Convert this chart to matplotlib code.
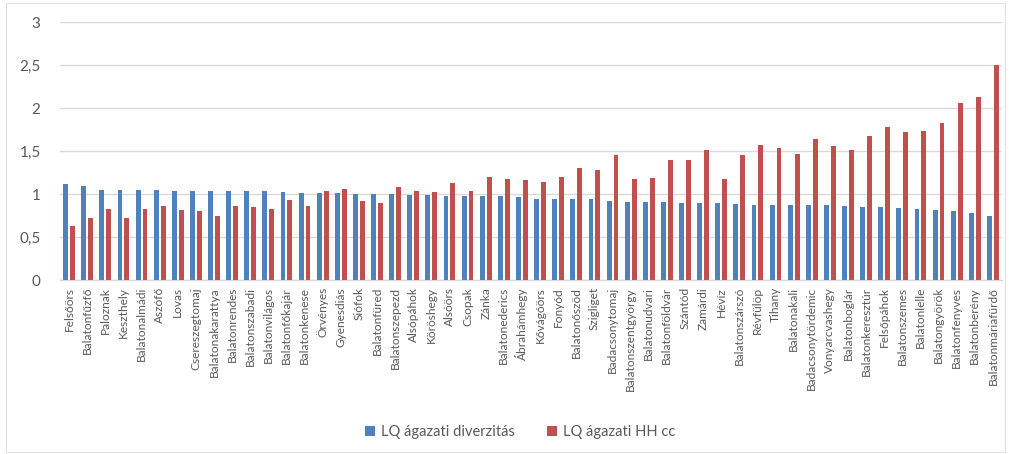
import matplotlib
matplotlib.use("Agg")
import matplotlib.pyplot as plt
import matplotlib.ticker as mticker
from matplotlib.patches import Rectangle
import numpy as np

# ----------------------------------------------------------------------
# Adatok
# ----------------------------------------------------------------------
telepulesek = [
    "Felsőörs", "Balatonfűzfő", "Paloznak", "Keszthely", "Balatonalmádi",
    "Aszófő", "Lovas", "Csereszegtomaj", "Balatonakarattya", "Balatonrendes",
    "Balatonszabadi", "Balatonvilágos", "Balatonfőkajár", "Balatonkenese",
    "Örvényes", "Gyenesdiás", "Siófok", "Balatonfüred", "Balatonszepezd",
    "Alsópáhok", "Köröshegy", "Alsóörs", "Csopak", "Zánka", "Balatonederics",
    "Ábrahámhegy", "Kővágóörs", "Fonyód", "Balatonőszöd", "Szigliget",
    "Badacsonytomaj", "Balatonszentgyörgy", "Balatonudvari", "Balatonföldvár",
    "Szántód", "Zamárdi", "Hévíz", "Balatonszárszó", "Révfülöp", "Tihany",
    "Balatonakali", "Badacsonytördemic", "Vonyarcvashegy", "Balatonboglár",
    "Balatonkeresztúr", "Felsőpáhok", "Balatonszemes", "Balatonlelle",
    "Balatongyörök", "Balatonfenyves", "Balatonberény", "Balatonmáriafürdő",
]

lq_diverzitas = [
    1.12, 1.09, 1.05, 1.05, 1.05, 1.05, 1.04, 1.04, 1.04, 1.04,
    1.03, 1.03, 1.02, 1.01, 1.01, 1.01, 1.00, 1.00, 1.00, 0.99,
    0.99, 0.98, 0.98, 0.98, 0.98, 0.96, 0.94, 0.94, 0.94, 0.94,
    0.92, 0.91, 0.91, 0.91, 0.90, 0.90, 0.90, 0.88, 0.87, 0.87,
    0.87, 0.87, 0.87, 0.86, 0.85, 0.85, 0.84, 0.83, 0.81, 0.80,
    0.78, 0.75,
]

lq_hhcc = [
    0.63, 0.72, 0.82, 0.72, 0.82, 0.86, 0.81, 0.80, 0.74, 0.86,
    0.85, 0.82, 0.93, 0.86, 1.03, 1.06, 0.92, 0.89, 1.08, 1.04,
    1.02, 1.13, 1.04, 1.20, 1.17, 1.16, 1.14, 1.20, 1.30, 1.28,
    1.45, 1.17, 1.19, 1.40, 1.40, 1.51, 1.17, 1.45, 1.57, 1.53,
    1.47, 1.64, 1.56, 1.51, 1.67, 1.78, 1.72, 1.73, 1.83, 2.06,
    2.13, 2.50,
]

sorozatok = ["LQ ágazati diverzitás", "LQ ágazati HH cc"]

# ----------------------------------------------------------------------
# Beállítások
# ----------------------------------------------------------------------
plt.rcParams.update({
    "font.family": ["Lato", "DejaVu Sans"],
    "font.size": 9,
})

KEK = "#4F81BD"
PIROS = "#C0504D"
SZURKE_SZOVEG = "#595959"
RACS = "#D9D9D9"

fig = plt.figure(figsize=(10.09, 4.54), dpi=100)
fig.patch.set_facecolor("white")
fig.add_artist(Rectangle((0.006, 0.004), 0.99, 0.99, transform=fig.transFigure,
                         fill=False, edgecolor="#E0E0E0", linewidth=0.8))

ax = fig.add_axes([60 / 1009, 1 - 280 / 454, 942 / 1009, 258 / 454])

x = np.arange(len(telepulesek))
w = 0.27
ax.bar(x - 0.19, lq_diverzitas, width=w, color=KEK, label=sorozatok[0], zorder=3)
ax.bar(x + 0.19, lq_hhcc, width=w, color=PIROS, label=sorozatok[1], zorder=3)

ax.set_xlim(-0.5, len(telepulesek) - 0.5)
ax.set_ylim(0, 3)
ax.yaxis.set_major_locator(mticker.MultipleLocator(0.5))
ax.yaxis.set_major_formatter(mticker.FuncFormatter(
    lambda v, _: f"{v:g}".replace(".", ",")))
ax.grid(axis="y", color=RACS, linewidth=1.0, zorder=0)

ax.set_xticks(x)
ax.set_xticklabels(telepulesek, rotation=90, fontsize=8.6, color=SZURKE_SZOVEG)
ax.tick_params(axis="x", length=0, pad=5)
ax.tick_params(axis="y", length=0, pad=14, labelsize=11, labelcolor=SZURKE_SZOVEG)

for side in ["top", "right", "left"]:
    ax.spines[side].set_visible(False)
ax.spines["bottom"].set_color(RACS)
ax.spines["bottom"].set_linewidth(1.0)

fig.legend(loc="center", bbox_to_anchor=(520 / 1009, 1 - 432 / 454), ncol=2,
           frameon=False, fontsize=10.5, handlelength=0.7, handleheight=0.7,
           handletextpad=0.4, columnspacing=2.2, labelcolor=SZURKE_SZOVEG)

fig.savefig("out.png", dpi=100, facecolor="white")
